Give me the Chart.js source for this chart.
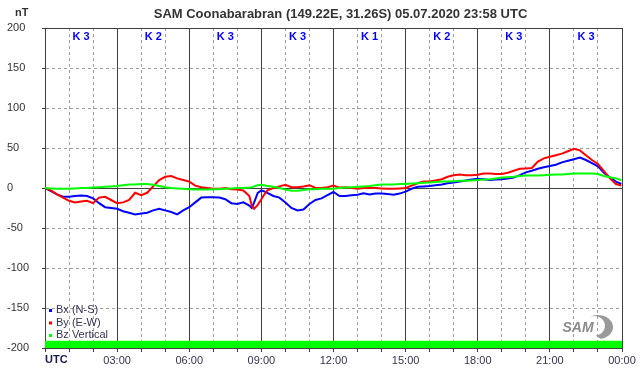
<!DOCTYPE html>
<html>
<head>
<meta charset="utf-8">
<script src="https://cdn.jsdelivr.net/npm/chart.js@4"></script>
<style>
html, body { margin: 0; padding: 0; background: #fff; }
</style>
</head>
<body>
<canvas id="chart" width="642" height="376"></canvas>
<script>
const title = 'SAM Coonabarabran (149.22E, 31.26S) 05.07.2020 23:58 UTC';

// hours UTC, 05.07.2020
const hours = [0, 0.25, 0.5, 0.75, 1, 1.25, 1.5, 1.75, 2, 2.25, 2.5, 2.75, 3, 3.25, 3.5, 3.75, 4, 4.25, 4.5, 4.75,
    5, 5.25, 5.5, 5.75, 6, 6.25, 6.5, 6.75, 7, 7.25, 7.5, 7.75, 8, 8.25, 8.5, 8.6, 8.7, 8.85, 9, 9.1,
    9.25, 9.5, 9.75, 10, 10.25, 10.5, 10.75, 11, 11.25, 11.5, 11.75, 12, 12.25, 12.5, 12.75, 13, 13.25, 13.5, 13.75, 14,
    14.25, 14.5, 14.75, 15, 15.25, 15.5, 15.75, 16, 16.25, 16.5, 16.75, 17, 17.25, 17.5, 17.75, 18, 18.25, 18.5, 18.75, 19,
    19.25, 19.5, 19.75, 20, 20.25, 20.5, 20.75, 21, 21.25, 21.5, 21.75, 22, 22.25, 22.5, 22.75, 23, 23.25, 23.5, 23.75, 23.97];

// nT
const bx = [0, -4, -8, -11, -11, -10, -9.5, -10, -13, -19, -24, -25, -26, -29, -31, -33, -32, -31, -28, -26,
    -28, -30, -33, -28, -24, -18, -12, -11.5, -11.5, -12, -14, -19, -20, -18, -22, -25, -18, -6, -3, -4,
    -6, -10, -12, -18, -25, -28, -27, -20, -15, -13, -9, -5, -10, -10, -9, -8.5, -6.5, -8, -7, -7,
    -7.5, -8.5, -7, -4.5, -1, 1.5, 2, 2.5, 3.5, 4.5, 6, 7, 8, 9.5, 10.5, 11.5, 11, 10, 10.5, 11,
    12, 13, 16, 19.5, 21.5, 24, 26, 27.5, 29, 32, 34, 36, 38, 35, 31, 27, 19, 13, 8, 5];

const by = [0, -3, -8, -12, -16, -18, -17, -16, -19, -12, -11, -15, -19, -18, -15, -6, -9, -6, 2, 10,
    14, 15, 12, 10, 8, 3, 1, 0, -1, -1, 0, -1.5, -2, -3, -10, -22, -26, -21, -14, -9,
    -3, 0, 2, 4, 1, 1, 2, 3.5, 0, 0, 1, 3, 0.5, 1, 0, -1, 0, 0, 0, -0.5,
    -1, -1, -0.5, 0, 3, 6, 8, 8, 9.5, 11, 14, 16, 17, 16, 16, 16.5, 18, 18, 17.5, 17.5,
    19, 21.5, 24, 24.5, 25, 33, 37, 39, 41, 43, 46, 49, 47, 41, 35, 30, 21, 12, 5, 3];

const bz = [0, -0.5, -1, -1, -1, -0.5, 0, 0, 0.5, 1, 1.5, 2, 2.5, 3.5, 4.5, 4.5, 5, 5, 4, 2.5,
    1, 0, -0.5, -1, -1.5, -2, -2, -2, -1.5, -1.5, -1, -0.5, 0, 0, 0.5, 1, 2, 3.5, 4, 3.5,
    2.5, 1.5, 0, -2, -3.5, -3.5, -2.5, -1.5, -1.5, -1, -1, -1, 0, 0.5, 1, 1.5, 2, 2.5, 3.5, 4.5,
    4.5, 4.5, 5, 5, 5.5, 6, 6.5, 7, 7.5, 8, 8, 8.5, 9, 9, 9.5, 10, 10.5, 11, 12, 13,
    13.5, 14, 15, 15.5, 15.5, 15.5, 16, 16.5, 17, 17, 17.5, 18, 18, 18, 18, 17.5, 15, 13.5, 12, 10];

// data coverage strip along the bottom
const coverHours = [0, 24];
const coverTop = [-191, -191];

// K index for each 3 hour block
const kIndex = [3, 2, 3, 3, 1, 2, 3, 3];

const FONT = '"Liberation Sans", Arial, sans-serif';
const DARK = '#404040';
const DASHED = '#a0a0a0';

function points(xs, ys)
{
    return xs.map((x, i) => ({x: x, y: ys[i]}));
}

function hour_label(v)
{
    if (v === 0)
        return '';
    return ('0' + (v % 24)).substr(-2) + ':00';
}

const decor = {
    id: 'decor',
    afterDraw(chart) {
        const ctx = chart.ctx;
        const area = chart.chartArea;
        const xs = chart.scales.x;
        ctx.save();

        // title
        ctx.fillStyle = '#333';
        ctx.font = 'bold 13px ' + FONT;
        ctx.textAlign = 'center';
        ctx.textBaseline = 'middle';
        ctx.fillText(title, (area.left + area.right) / 2 + 7, 14);

        // unit + UTC
        ctx.font = 'bold 11px ' + FONT;
        ctx.textAlign = 'left';
        ctx.fillText('nT', area.left - 30, 13);
        ctx.fillStyle = '#1a1a50';
        ctx.fillText('UTC', area.left, area.bottom + 12);

        // K indices
        ctx.fillStyle = '#0000ff';
        ctx.textAlign = 'center';
        for (let i = 0; i < kIndex.length; i++) {
            ctx.fillText('K ' + kIndex[i], xs.getPixelForValue(i * 3 + 1.5), area.top + 9);
        }

        // legend
        ctx.font = '11px ' + FONT;
        ctx.textAlign = 'left';
        for (let i = 0; i < 3; i++) {
            const ds = chart.data.datasets[i];
            const y = area.bottom - 38 + i * 12.5;
            ctx.fillStyle = ds.borderColor;
            ctx.fillRect(area.left + 4, y - 1, 3, 3);
            ctx.fillStyle = '#333355';
            ctx.fillText(ds.label, area.left + 11, y);
        }

        // SAM logo
        const lx = area.right - 24;
        const ly = area.bottom - 21;
        ctx.fillStyle = '#9a9a9a';
        ctx.beginPath();
        ctx.ellipse(lx, ly, 15, 12, 0, -2.0, 1.4);
        ctx.ellipse(lx - 4, ly - 1, 11, 10, 0, 1.4, -2.0, true);
        ctx.closePath();
        ctx.fill();
        ctx.font = 'italic bold 14px ' + FONT;
        ctx.fillStyle = '#8a8a8a';
        ctx.textAlign = 'center';
        ctx.fillText('SAM', lx - 20, ly + 1);

        ctx.restore();
    }
};

const is_solid_x = c => c.tick && c.tick.value % 3 === 0;
const is_solid_y = c => c.tick && (c.tick.value === 0 || Math.abs(c.tick.value) === 200);

const config = {
    type: 'line',
    data: {
        datasets: [
            {label: 'Bx (N-S)', data: points(hours, bx), borderColor: '#0000ff', borderWidth: 2, pointRadius: 0, order: 3},
            {label: 'By (E-W)', data: points(hours, by), borderColor: '#ff0000', borderWidth: 2, pointRadius: 0, order: 2},
            {label: 'Bz Vertical', data: points(hours, bz), borderColor: '#00ff00', borderWidth: 2, pointRadius: 0, order: 1},
            {label: 'coverage', data: points(coverHours, coverTop), borderWidth: 0, pointRadius: 0,
                fill: 'start', backgroundColor: '#00ff00', order: 4}
        ]
    },
    options: {
        responsive: false,
        animation: false,
        layout: {padding: {left: 7, right: 20, top: 28, bottom: 0}},
        plugins: {
            legend: {display: false},
            tooltip: {enabled: false}
        },
        scales: {
            x: {
                type: 'linear',
                min: 0,
                max: 24,
                afterFit: s => { s.height = 28; },
                ticks: {
                    stepSize: 1,
                    maxTicksLimit: 30,
                    autoSkip: false,
                    maxRotation: 0,
                    padding: 2,
                    color: '#333355',
                    font: {family: FONT, size: 11},
                    callback: v => v % 3 === 0 ? hour_label(v) : ''
                },
                grid: {
                    color: c => is_solid_x(c) ? DARK : DASHED,
                    lineWidth: 1,
                    tickLength: 4,
                    tickColor: DARK,
                    tickBorderDash: []
                },
                border: {color: DARK, dash: c => (c.tick && !is_solid_x(c)) ? [3, 3] : []}
            },
            y: {
                min: -200,
                max: 200,
                afterFit: s => { s.width = 38; },
                ticks: {
                    stepSize: 50,
                    crossAlign: 'far',
                    color: '#333',
                    font: {family: FONT, size: 11}
                },
                grid: {
                    color: c => is_solid_y(c) ? DARK : DASHED,
                    lineWidth: 1,
                    tickLength: 3,
                    tickColor: DARK,
                    tickBorderDash: []
                },
                border: {color: DARK, dash: c => (c.tick && !is_solid_y(c)) ? [3, 3] : []}
            }
        }
    },
    plugins: [decor]
};

new Chart(document.getElementById('chart').getContext('2d'), config);
</script>
</body>
</html>
